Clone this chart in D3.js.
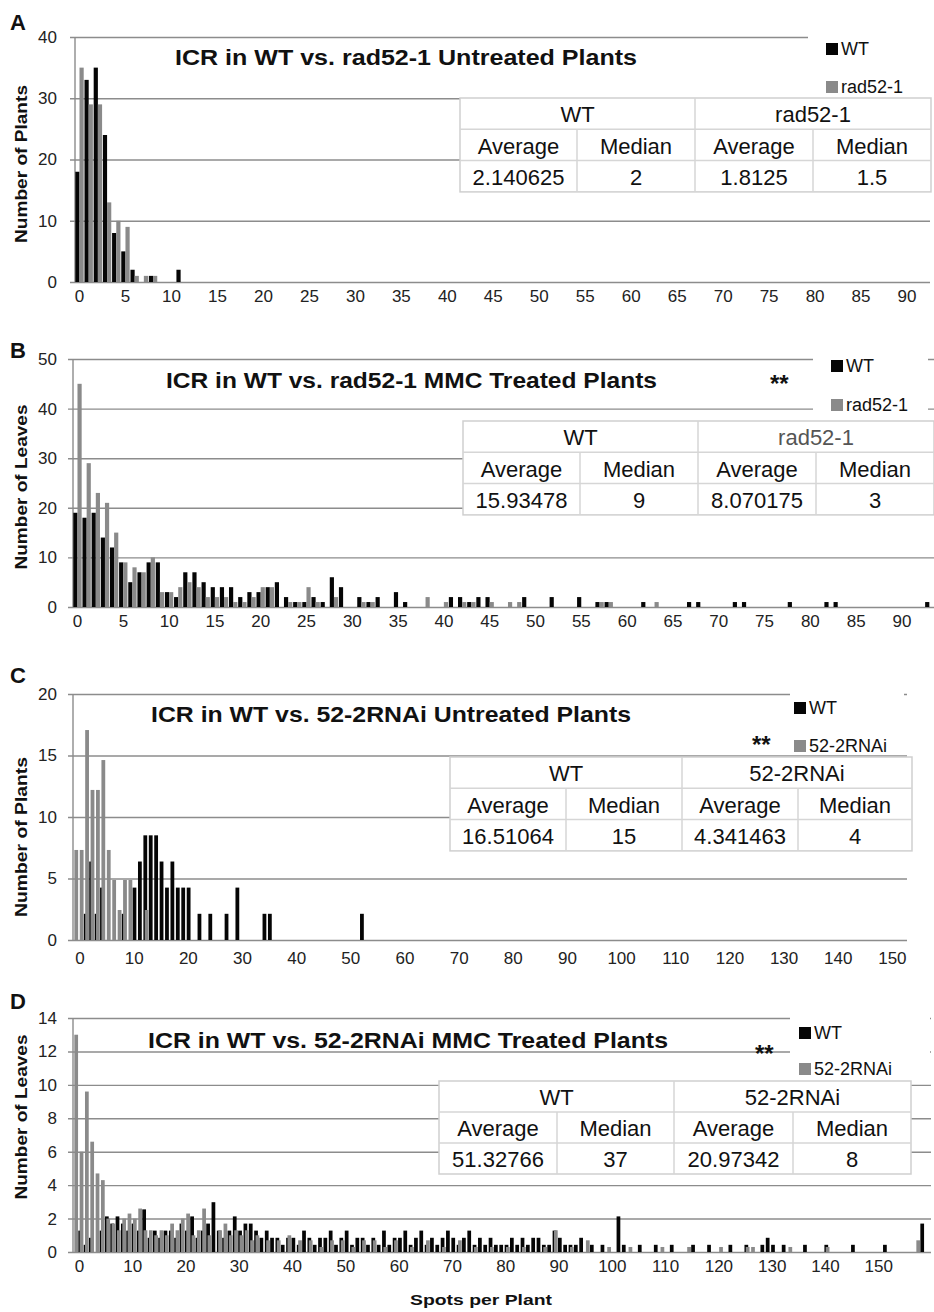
<!DOCTYPE html>
<html>
<head>
<meta charset="utf-8">
<script src="https://cdn.jsdelivr.net/npm/d3@7"></script>
<style>
  body { margin: 0; background: #fff; }
  text { font-family: "Liberation Sans", Arial, sans-serif; fill: #111; }
</style>
</head>
<body>
<svg id="fig" width="934" height="1312"></svg>
<script>
// ---- data: [spots per plant, bar height] ----
const aWT  = [[0,18],[1,33],[2,35],[3,24],[4,8],[5,5],[6,2],[8,1],[11,2]];
const aRad = [[0,35],[1,29],[2,29],[3,13],[4,10],[5,9],[6,1],[7,1],[8,1]];

const bWT  = [[0,19],[1,18],[2,19],[3,14],[4,12],[5,9],[6,5],[7,7],[8,9],[9,9],[10,3],[11,2],[12,7],[13,7],
  [14,5],[15,4],[16,4],[17,4],[18,2],[19,3],[20,3],[21,4],[22,5],[23,2],[24,1],[25,1],[26,2],[27,1],[28,6],
  [29,4],[31,2],[32,1],[33,2],[35,3],[36,1],[41,2],[42,2],[43,1],[44,2],[45,2],[49,2],[52,2],[55,2],[57,1],
  [58,1],[62,1],[67,1],[68,1],[72,1],[73,1],[78,1],[82,1],[83,1],[93,1]];
const bRad = [[0,45],[1,29],[2,23],[3,21],[4,15],[5,9],[6,8],[7,7],[8,10],[9,3],[10,3],[11,4],[12,5],[13,4],
  [14,2],[15,2],[16,2],[17,1],[18,1],[19,2],[20,4],[21,4],[23,1],[24,1],[25,4],[26,1],[28,2],[31,1],[32,1],
  [38,2],[40,1],[42,1],[43,1],[45,1],[47,1],[48,1],[57,1],[58,1],[63,1]];

const cWT  = [[2,2.13],[3,6.38],[4,2.13],[5,4.26],[9,2.13],[11,4.26],[12,6.38],[13,8.51],[14,8.51],[15,8.51],
  [16,6.38],[17,4.26],[18,6.38],[19,4.26],[20,4.26],[21,4.26],[23,2.13],[25,2.13],[28,2.13],[30,4.26],
  [35,2.13],[36,2.13],[53,2.13]];
const cRNAi = [[0,7.32],[1,7.32],[2,17.07],[3,12.2],[4,12.2],[5,14.63],[6,7.32],[7,4.88],[8,2.44],[9,4.88],
  [10,4.88],[13,2.44]];

const dWT  = [[1,1.28],[2,0.43],[3,0.85],[5,1.28],[6,2.13],[7,1.7],[8,2.13],[9,1.7],[10,1.28],[11,1.7],
  [12,1.28],[13,2.55],[14,0.85],[15,1.28],[16,0.85],[17,1.28],[18,1.28],[19,0.85],[20,1.7],[21,1.28],
  [22,2.13],[23,0.85],[24,1.28],[25,1.7],[26,2.98],[27,1.28],[28,0.85],[29,1.28],[30,2.13],[31,1.28],
  [32,1.7],[33,1.7],[34,1.28],[35,0.85],[36,1.28],[37,0.85],[38,0.85],[39,0.43],[40,0.85],[41,0.85],
  [42,0.43],[43,1.28],[44,0.85],[45,0.43],[46,0.85],[47,0.85],[48,1.28],[49,0.43],[50,0.85],[51,1.28],
  [52,0.43],[53,0.85],[54,0.85],[55,0.43],[56,0.85],[57,0.43],[58,1.28],[59,0.43],[60,0.85],[61,0.85],
  [62,1.28],[63,0.43],[64,0.85],[65,1.28],[66,0.43],[67,0.85],[68,0.43],[69,0.85],[70,1.28],[71,0.85],
  [72,0.43],[73,0.85],[74,1.28],[75,0.43],[76,0.85],[77,0.43],[78,0.85],[79,0.43],[80,0.43],[81,0.43],
  [82,0.85],[83,0.43],[84,0.85],[85,0.43],[86,0.85],[87,0.85],[88,0.43],[89,0.43],[90,1.28],[91,0.85],
  [92,0.43],[93,0.43],[94,0.43],[95,0.85],[97,0.43],[99,0.43],[102,2.13],[103,0.43],[106,0.43],[109,0.43],
  [112,0.43],[116,0.43],[119,0.43],[123,0.43],[126,0.43],[129,0.43],[130,0.85],[131,0.43],[133,0.43],
  [137,0.43],[141,0.43],[146,0.43],[152,0.43],[159,1.7]];
const dRNAi = [[0,13.0],[1,6.0],[2,9.6],[3,6.6],[4,4.7],[5,4.3],[6,2.0],[7,1.7],[8,1.3],[9,2.0],[10,2.3],
  [11,2.0],[12,2.6],[13,1.3],[14,1.3],[15,1.0],[16,1.3],[17,1.0],[18,1.7],[19,1.3],[20,2.0],[21,2.3],
  [22,1.0],[23,1.3],[24,2.6],[25,1.0],[27,1.3],[28,1.7],[29,1.0],[30,1.3],[31,1.0],[32,1.3],[33,0.7],
  [34,1.0],[36,0.7],[38,0.7],[40,1.0],[42,0.7],[44,0.7],[46,0.3],[48,0.7],[50,0.7],[52,0.3],[54,0.7],
  [56,0.7],[58,0.3],[60,0.7],[63,0.3],[66,0.7],[69,0.3],[72,0.7],[75,0.3],[78,0.3],[81,0.3],[84,0.3],
  [88,0.3],[90,1.3],[93,0.3],[96,0.7],[100,0.3],[104,0.3],[110,0.3],[115,0.3],[121,0.3],[126,0.3],
  [127,0.3],[134,0.3],[141,0.3],[158,0.7]];

// ---- labels and summary tables ----
const ticks5   = d3.range(0, 91, 5);
const ticks10  = d3.range(0, 151, 10);
const headerAB = ['WT', 'rad52-1'];
const headerCD = ['WT', '52-2RNAi'];
const subHeader = ['Average', 'Median', 'Average', 'Median'];
const statsA = ['2.140625', '2', '1.8125', '1.5'];
const statsB = ['15.93478', '9', '8.070175', '3'];
const statsC = ['16.51064', '15', '4.341463', '4'];
const statsD = ['51.32766', '37', '20.97342', '8'];

const BLACK = '#050505', GREY = '#8a8a8a', GRID = '#8c8c8c';

const svg = d3.select('#fig');

const panels = [
  { letter: 'A', letterY: 30, top: 37, bottom: 282, left: 75, right: 930, yMax: 40, yStep: 10,
    nCats: 93, xTicks: ticks5, xLabelY: 302, labelShift: 0, mode: 'side', wt: aWT, mut: aRad,
    title: 'ICR in WT vs. rad52-1 Untreated Plants', titleX: 175, titleW: 462, titleY: 65,
    yTitle: 'Number of Plants', yTitleC: 164, yTitleW: 158,
    legendX: 826, legendY: [43, 81], legendBox: [808, 25, 126, 72], mutName: 'rad52-1', star: null,
    table: { x: [460, 577, 695, 813, 931], y: 98, h: 31.3, head: headerAB, stats: statsA, mutColor: '#111' } },
  { letter: 'B', letterY: 358, top: 359, bottom: 607, left: 73, right: 934, yMax: 50, yStep: 10,
    nCats: 94, xTicks: ticks5, xLabelY: 627, labelShift: 0, mode: 'side', wt: bWT, mut: bRad,
    title: 'ICR in WT vs. rad52-1 MMC Treated Plants', titleX: 166, titleW: 491, titleY: 388,
    yTitle: 'Number of Leaves', yTitleC: 487, yTitleW: 165,
    legendX: 831, legendY: [360, 399], legendBox: [813, 350, 115, 70], mutName: 'rad52-1', star: [770, 392],
    table: { x: [463, 580, 698, 816, 934], y: 421, h: 31.3, head: headerAB, stats: statsB, mutColor: '#555' } },
  { letter: 'C', letterY: 683, top: 694, bottom: 940, left: 73, right: 907, yMax: 20, yStep: 5,
    nCats: 154, xTicks: ticks10, xLabelY: 964, labelShift: 0.8, mode: 'overlap', wt: cWT, mut: cRNAi,
    title: 'ICR in WT vs. 52-2RNAi Untreated Plants', titleX: 151, titleW: 480, titleY: 722,
    yTitle: 'Number of Plants', yTitleC: 837, yTitleW: 160,
    legendX: 794, legendY: [702, 740], legendBox: [790, 686, 114, 66], mutName: '52-2RNAi', star: [752, 753],
    table: { x: [450, 566, 682, 798, 912], y: 757, h: 31.3, head: headerCD, stats: statsC, mutColor: '#111' } },
  { letter: 'D', letterY: 1009, top: 1018, bottom: 1252, left: 73, right: 931, yMax: 14, yStep: 2,
    nCats: 161, xTicks: ticks10, xLabelY: 1272, labelShift: 0.7, mode: 'overlap', wt: dWT, mut: dRNAi,
    title: 'ICR in WT vs. 52-2RNAi MMC Treated Plants', titleX: 148, titleW: 520, titleY: 1048,
    yTitle: 'Number of Leaves', yTitleC: 1117, yTitleW: 165,
    legendX: 799, legendY: [1027, 1063], legendBox: [790, 1010, 140, 70], mutName: '52-2RNAi', star: [755, 1062],
    table: { x: [439, 557, 674, 793, 911], y: 1081, h: 31, head: headerCD, stats: statsD, mutColor: '#111' } }
];

panels.forEach(drawPanel);

svg.append('text')
    .attr('x', 410).attr('y', 1305)
    .attr('textLength', 142).attr('lengthAdjust', 'spacingAndGlyphs')
    .style('font-size', '15px').style('font-weight', 'bold')
    .text('Spots per Plant');

function drawPanel(p) {
  const g = svg.append('g');

  const y = d3.scaleLinear().domain([0, p.yMax]).range([p.bottom, p.top]);
  const x = d3.scaleBand().domain(d3.range(p.nCats)).range([p.left, p.right]);
  const step = x.step();

  // gridlines + y tick labels
  const yAxis = d3.axisLeft(y)
      .tickValues(d3.range(0, p.yMax + 0.01, p.yStep))
      .tickSize(-(p.right - p.left));
  const yg = g.append('g').attr('transform', `translate(${p.left},0)`).call(yAxis);
  yg.select('.domain').remove();
  yg.selectAll('.tick line').attr('x1', -5).attr('stroke', GRID).attr('stroke-width', 1.4);
  yg.selectAll('.tick text')
      .attr('x', 57 - p.left)
      .style('font-size', '17px').style('fill', '#222');

  // vertical axis line
  g.append('line')
      .attr('x1', p.left).attr('x2', p.left)
      .attr('y1', y(p.yMax)).attr('y2', y(0))
      .attr('stroke', GRID).attr('stroke-width', 1.4);

  // bars
  const bars = g.append('g');
  if (p.mode === 'side') {
    const inner = d3.scaleBand().domain(['wt', 'mut']).range([0.3, step - 0.5]);
    bars.selectAll('.wt').data(p.wt).join('rect')
        .attr('x', d => x(d[0]) + inner('wt'))
        .attr('width', inner.bandwidth())
        .attr('y', d => y(d[1])).attr('height', d => y(0) - y(d[1]))
        .attr('fill', BLACK);
    bars.selectAll('.mut').data(p.mut).join('rect')
        .attr('x', d => x(d[0]) + inner('mut'))
        .attr('width', inner.bandwidth())
        .attr('y', d => y(d[1])).attr('height', d => y(0) - y(d[1]))
        .attr('fill', GREY);
  } else {
    // overlapping clusters: grey series sits on top, shifted right
    const w = step * 0.7;
    bars.selectAll('.wt').data(p.wt).join('rect')
        .attr('x', d => x(d[0]))
        .attr('width', w)
        .attr('y', d => y(d[1])).attr('height', d => y(0) - y(d[1]))
        .attr('fill', BLACK);
    bars.selectAll('.mut').data(p.mut).join('rect')
        .attr('x', d => x(d[0]) + step * 0.25)
        .attr('width', w)
        .attr('y', d => y(d[1])).attr('height', d => y(0) - y(d[1]))
        .attr('fill', GREY);
  }

  // x tick labels
  const xAxis = d3.axisBottom(x).tickValues(p.xTicks).tickSize(0).tickPadding(0);
  const xg = g.append('g').attr('transform', `translate(${p.labelShift * step},${p.xLabelY})`).call(xAxis);
  xg.select('.domain').remove();
  xg.selectAll('.tick text').attr('dy', 0).attr('y', 0)
      .style('font-size', '17px').style('fill', '#222');

  // legend (white box hides gridlines behind it)
  const lb = p.legendBox;
  g.append('rect').attr('x', lb[0]).attr('y', lb[1]).attr('width', lb[2]).attr('height', lb[3]).attr('fill', '#fff');
  [[BLACK, 'WT'], [GREY, p.mutName]].forEach((e, i) => {
    g.append('rect').attr('x', p.legendX).attr('y', p.legendY[i]).attr('width', 12).attr('height', 12).attr('fill', e[0]);
    g.append('text').attr('x', p.legendX + 15).attr('y', p.legendY[i] + 12)
        .style('font-size', '18px').text(e[1]);
  });

  // summary table
  const t = p.table;
  const tg = g.append('g');
  tg.append('rect').attr('x', t.x[0]).attr('y', t.y).attr('width', t.x[4] - t.x[0]).attr('height', t.h * 3)
      .attr('fill', '#fff').attr('stroke', '#cfcfcf').attr('stroke-width', 1.5);
  [1, 2].forEach(r => tg.append('line').attr('x1', t.x[0]).attr('x2', t.x[4])
      .attr('y1', t.y + r * t.h).attr('y2', t.y + r * t.h).attr('stroke', '#d6d6d6').attr('stroke-width', 1.5));
  tg.append('line').attr('x1', t.x[2]).attr('x2', t.x[2]).attr('y1', t.y).attr('y2', t.y + 3 * t.h)
      .attr('stroke', '#d6d6d6').attr('stroke-width', 1.5);
  [1, 3].forEach(c => tg.append('line').attr('x1', t.x[c]).attr('x2', t.x[c]).attr('y1', t.y + t.h).attr('y2', t.y + 3 * t.h)
      .attr('stroke', '#d6d6d6').attr('stroke-width', 1.5));
  t.head.forEach((h, i) => tg.append('text')
      .attr('x', (t.x[i * 2] + t.x[i * 2 + 2]) / 2).attr('y', t.y + t.h - 7)
      .attr('text-anchor', 'middle').style('font-size', '22px')
      .style('fill', i === 1 ? t.mutColor : '#111').text(h));
  subHeader.forEach((h, i) => tg.append('text')
      .attr('x', (t.x[i] + t.x[i + 1]) / 2).attr('y', t.y + 2 * t.h - 7)
      .attr('text-anchor', 'middle').style('font-size', '22px').text(h));
  t.stats.forEach((s, i) => tg.append('text')
      .attr('x', (t.x[i] + t.x[i + 1]) / 2).attr('y', t.y + 3 * t.h - 7)
      .attr('text-anchor', 'middle').style('font-size', '22px').text(s));

  // titles
  g.append('text').attr('x', p.titleX).attr('y', p.titleY)
      .attr('textLength', p.titleW).attr('lengthAdjust', 'spacingAndGlyphs')
      .style('font-size', '22px').style('font-weight', 'bold').text(p.title);
  if (p.star) {
    g.append('text').attr('x', p.star[0]).attr('y', p.star[1])
        .style('font-size', '24px').style('font-weight', 'bold').text('**');
  }
  g.append('text').attr('x', 10).attr('y', p.letterY)
      .style('font-size', '22px').style('font-weight', 'bold').text(p.letter);
  g.append('text')
      .attr('transform', `translate(27,${p.yTitleC}) rotate(-90)`)
      .attr('text-anchor', 'middle')
      .attr('textLength', p.yTitleW).attr('lengthAdjust', 'spacingAndGlyphs')
      .style('font-size', '16px').style('font-weight', 'bold').text(p.yTitle);
}
</script>
</body>
</html>
